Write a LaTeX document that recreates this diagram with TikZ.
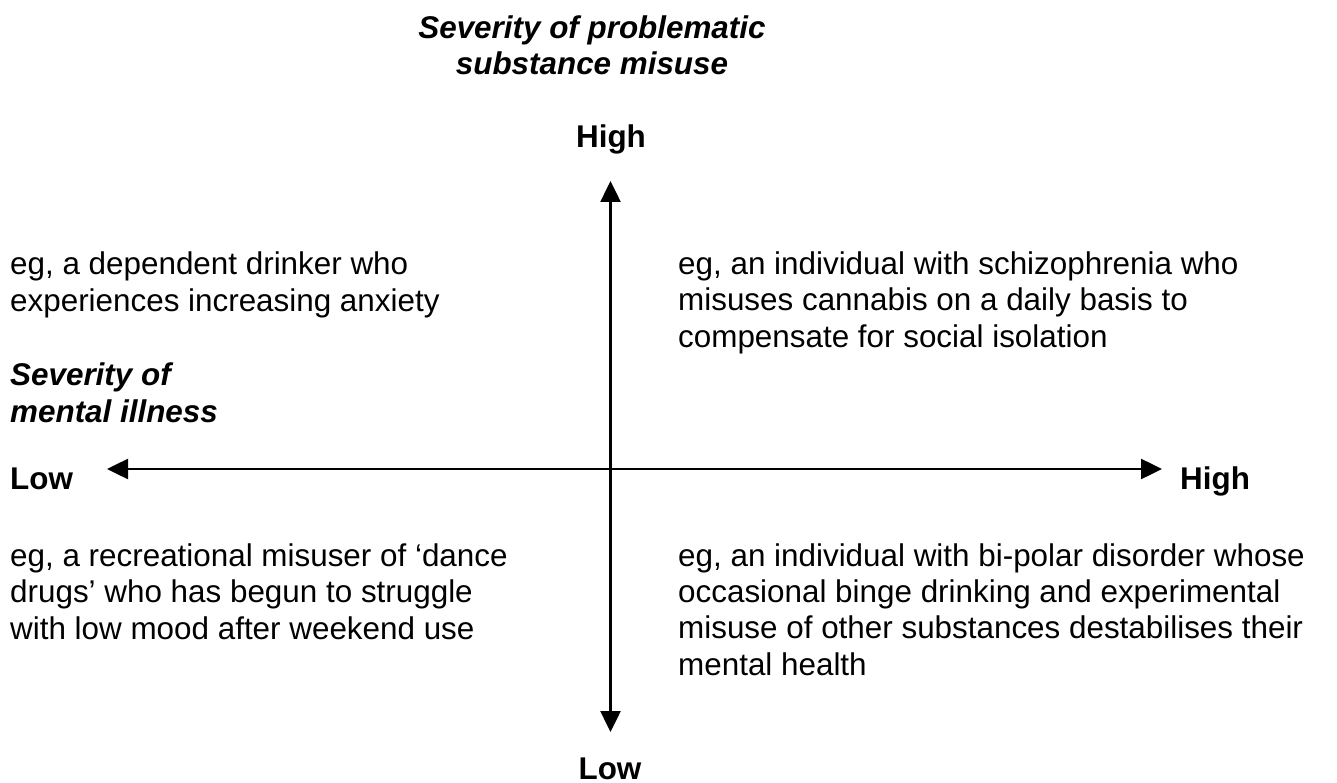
\documentclass[tikz,border=0pt]{standalone}
\usepackage{fontspec}
\setmainfont{Liberation Sans}
\usetikzlibrary{arrows.meta}

\begin{document}
\begin{tikzpicture}[
    x=1pt, y=-1pt,                 % one unit per pixel, y running down
    font=\fontsize{31.4}{36.1}\selectfont,
    >={Triangle[length=21pt,width=20pt]}
  ]

  % Global Style Definitions
  \tikzset{
    axis/.style={draw, line width=2.5pt, <->},
    label/.style={font=\fontsize{31.4}{36.1}\selectfont\bfseries, inner sep=0pt},
    heading/.style={font=\fontsize{31.4}{36.1}\selectfont\bfseries\itshape, inner sep=0pt},
    example/.style={inner sep=0pt, align=left, anchor=base west}
  }

  \useasboundingbox (0,0) rectangle (1337,783);

  % Axis end points
  \coordinate (top) at (610.5,181);
  \coordinate (bottom) at (610.5,732);
  \coordinate (left) at (107,469);
  \coordinate (right) at (1162,469);

  % Axes
  \draw[axis] (bottom) -- (top);
  \draw[axis] (left) -- (right);

  % Vertical axis titles (base anchor sits on the last line)
  \node (ytitle) [heading, align=center, anchor=base] at (592,75)
    {Severity of problematic\\substance misuse};
  \node (yhigh) [label, anchor=base] at (611,148) {High};
  \node (ylow) [label, anchor=base] at (610,779) {Low};

  % Horizontal axis titles
  \node (xtitle) [heading, align=left, anchor=base west] at (10,422)
    {Severity of\\mental illness};
  \node (xlow) [label, anchor=base west] at (10,489) {Low};
  \node (xhigh) [label, anchor=base west] at (1180,489) {High};

  % Quadrant examples
  \node (upleft) [example] at (10,311)
    {eg, a dependent drinker who\\experiences increasing anxiety};
  \node (upright) [example] at (678,347)
    {eg, an individual with schizophrenia who\\misuses cannabis on a daily basis to\\compensate for social isolation};
  \node (lowleft) [example] at (10,639)
    {eg, a recreational misuser of ‘dance\\drugs’ who has begun to struggle\\with low mood after weekend use};
  \node (lowright) [example] at (678,675)
    {eg, an individual with bi-polar disorder whose\\occasional binge drinking and experimental\\misuse of other substances destabilises their\\mental health};

\end{tikzpicture}
\end{document}
